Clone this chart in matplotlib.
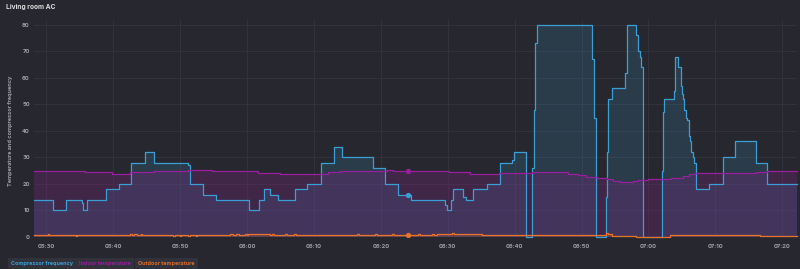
import pandas as pd
import matplotlib
matplotlib.use("Agg")
import matplotlib.pyplot as plt
import matplotlib.dates as mdates

# all times are minutes after 05:30
comp_t = [-1.8, 1.05, 2.9, 5.3, 5.5, 6.1, 8.9, 10.8, 12.7, 14.75, 16.1, 21.2, 21.5,
          23.4, 25.4, 30.3, 31.8, 32.5, 33.4, 34.7, 37.1, 38.9, 41.0, 43.0, 44.2,
          48.8, 50.6, 52.6, 54.5, 59.6, 59.9, 60.5, 60.8, 62.3, 62.7, 63.8, 65.8,
          67.8, 69.6, 69.9, 71.7, 72.65, 72.9, 73.1, 73.35, 81.6, 81.8, 82.1, 83.6,
          83.75, 83.9, 84.6, 86.5, 86.8, 88.1, 88.5, 88.8, 88.95, 89.15, 92.0, 92.2,
          92.35, 93.8, 93.97, 94.4, 94.8, 95.0, 95.2, 95.35, 95.6, 95.7, 96.0, 96.2,
          96.4, 96.6, 96.8, 97.1, 99.0, 101.1, 103.0, 106.0, 107.7, 112.2]
comp_v = [14, 10, 14, 13, 10, 14, 18, 20, 28, 32, 28, 27, 20,
          16, 14, 10, 14, 18, 16, 14, 18, 20, 28, 34, 30,
          26, 20, 16, 14, 12, 10, 14, 18, 15, 14, 18, 20,
          28, 29, 32, 0, 26, 48, 73, 80, 67, 45, 0, 15,
          32, 52, 56, 62, 80, 76, 70, 68, 64, 0, 25, 47,
          52, 55, 68, 64, 57, 54, 52, 48, 45, 44, 38, 36,
          32, 30, 28, 18, 20, 30, 36, 28, 20, 20]

indoor_t = [-1.8, 5.8, 9.8, 12.5, 16.1, 21.2, 24.7, 31.7, 34.9, 42.1, 43.9, 50.9,
            51.8, 60.2, 63.3, 67.7, 72.6, 78.0, 79.5, 80.6, 82.3, 83.8, 84.7, 85.7,
            87.7, 88.5, 90.0, 93.4, 95.2, 96.1, 97.0, 102.9, 106.0, 107.7, 112.2]
indoor_v = [24.8, 24.4, 23.9, 24.4, 24.8, 25.2, 24.8, 24.3, 23.9, 24.4, 24.8, 25.2,
            24.9, 24.4, 23.9, 24.3, 24.5, 23.8, 23.3, 22.8, 22.3, 21.7, 21.2, 20.7,
            21.1, 21.5, 21.8, 22.3, 23.0, 23.6, 24.0, 24.2, 24.6, 24.9, 24.9]

outdoor_t = [-1.8, 0.25, 0.4, 4.4, 4.6, 12.5, 12.8, 13.1, 13.6, 14.2, 14.3, 18.9,
             19.2, 20.0, 20.1, 21.2, 21.5, 22.4, 22.5, 27.5, 27.9, 28.4, 28.8, 29.7,
             30.0, 30.2, 33.4, 33.7, 34.0, 35.7, 36.0, 37.0, 37.3, 46.4, 46.7, 49.1,
             49.4, 51.7, 52.0, 55.6, 55.9, 57.7, 58.0, 58.4, 60.6, 60.9, 65.1, 82.0,
             83.7, 84.0, 84.6, 85.0, 85.7, 86.5, 87.2, 88.1, 88.8, 93.2, 106.7, 108.9,
             109.1, 111.2, 111.4, 112.2]
outdoor_v = [0.6, 1.2, 0.6, 0.2, 0.6, 1.1, 0.6, 1.1, 0.6, 1.1, 0.6, 0.2,
             0.6, 0.2, 0.6, 0.2, 0.6, 0.2, 0.6, 1.1, 0.6, 1.1, 0.6, 1.1,
             0.6, 1.2, 0.6, 1.0, 0.6, 1.0, 0.6, 1.0, 0.6, 1.0, 0.6, 1.0,
             0.6, 1.0, 0.6, 1.0, 0.6, 1.0, 0.6, 1.2, 1.6, 1.2, 0.6, 0.6,
             1.6, 1.0, 0.5, 0.3, 0.5, 0.2, 0.4, 0.1, 0.0, 0.65, 0.2, 0.5,
             0.2, 0.5, 0.2, 0.2]

# hover point at 06:24
hover_t = 54.0
hover_v = {"comp": 16, "indoor": 25, "outdoor": 0.6}

series_names = ["Compressor frequency", "Indoor temperature", "Outdoor temperature"]
line_colors = ["#3a9fd4", "#9a1f9e", "#e8742c"]
label_colors = ["#3aa0d6", "#9b1c9e", "#e06d28"]

bg = "#27282f"
grid_c = "#34353e"
tick_c = "#9d9ea6"

start = pd.Timestamp("2024-01-01 05:30")


def to_time(mins):
    return (start + pd.to_timedelta(mins, unit="m")).to_pydatetime()


plt.rcParams["font.family"] = ["Inter", "DejaVu Sans"]

fig = plt.figure(figsize=(8, 2.69), dpi=100, facecolor=bg)
ax = fig.add_axes([34 / 800, 1 - 237 / 269, (797 - 34) / 800, (237 - 20) / 269])
ax.set_facecolor(bg)

data = [(comp_t, comp_v), (indoor_t, indoor_v), (outdoor_t, outdoor_v)]
alphas = [0.16, 0.22, 0.2]
for (t, v), col, a in zip(data, line_colors, alphas):
    x = to_time(t)
    ax.fill_between(x, 0, v, step="post", color=col, alpha=a, lw=0)
    ax.plot(x, v, drawstyle="steps-post", color=col, lw=0.9, clip_on=False)

hx = to_time([hover_t])
for key, col in zip(["comp", "indoor", "outdoor"], line_colors):
    ax.plot(hx, [hover_v[key]], "o", ms=2.8, color=col, zorder=5)

ax.set_xlim(to_time([-1.84])[0], to_time([112.2])[0])
ax.set_ylim(0, 81.8)
ax.set_yticks(range(0, 81, 10))
ax.xaxis.set_major_locator(mdates.MinuteLocator(byminute=range(0, 60, 10)))
ax.xaxis.set_major_formatter(mdates.DateFormatter("%H:%M"))

ax.grid(True, color=grid_c, lw=0.6)
ax.set_axisbelow(True)
for s in ax.spines.values():
    s.set_visible(False)
ax.tick_params(axis="x", length=0, labelsize=4.2, colors=tick_c, pad=5)
ax.tick_params(axis="y", length=0, labelsize=4.2, colors=tick_c, pad=3)
for lab in ax.get_yticklabels() + ax.get_xticklabels():
    lab.set_fontweight("bold")

fig.text(11 / 800, 1 - 131 / 269, "Temperature and compressor frequency", rotation=90,
         ha="center", va="center", fontsize=4.0, color=tick_c, fontweight="bold")
fig.text(6 / 800, 1 - 7 / 269, "Living room AC", ha="left", va="center",
         fontsize=4.8, color="#d8d9da", fontweight="bold")

# legend chips
lx = [11, 79, 138]
for x0, name, col in zip(lx, series_names, label_colors):
    fig.text(x0 / 800, 1 - 263.5 / 269, name, ha="left", va="center", fontsize=3.9,
             color=col, fontweight="bold",
             bbox=dict(boxstyle="square,pad=0.6", fc="#31323c", ec="none"))

fig.savefig("out.png", dpi=100, facecolor=bg)
